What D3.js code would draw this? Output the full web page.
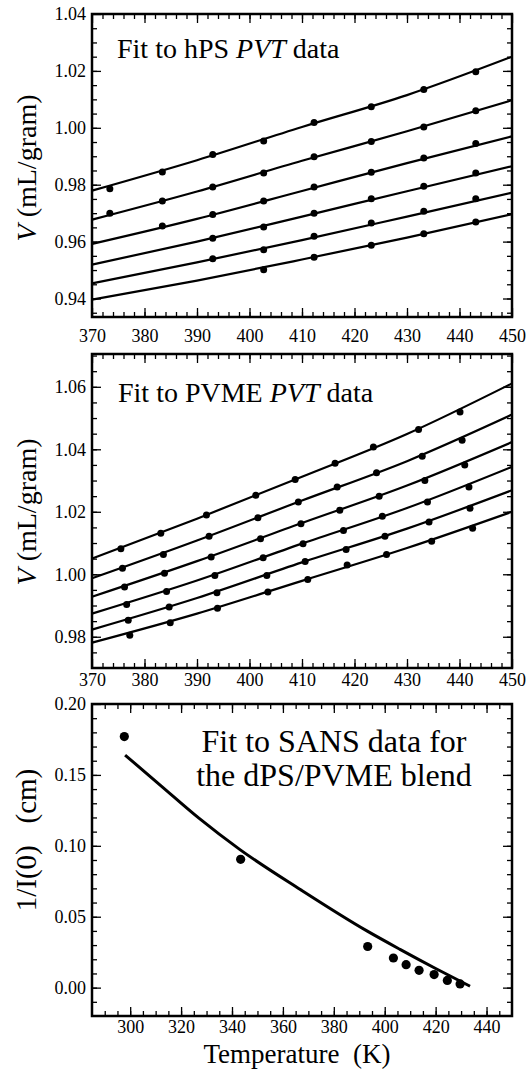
<!DOCTYPE html>
<meta charset="utf-8">
<style>
body { margin: 0; background: #fff; }
svg { display: block; }
.frame { fill: none; stroke: #000; stroke-width: 2.5; }
.fit { fill: none; stroke: #000; stroke-linejoin: round; }
.axis path { display: none; }
.axis line { stroke: #000; stroke-width: 1.3; }
</style>
<body>
<svg width="527" height="1070"></svg>
<script src="https://d3js.org/d3.v7.min.js"></script>
<script>

// ---- hPS PVT data (isobars, top to bottom) ----
var hpsT = [373.4, 383.4, 393.0, 402.7, 412.3, 423.2, 433.2, 443.1];
var hpsV1 = [0.9786, 0.9845, 0.9906, 0.9954, 1.0019, 1.0074, 1.0135, 1.0197];
var hpsV2 = [0.9700, 0.9743, 0.9792, 0.9841, 0.9898, 0.9952, 1.0003, 1.0060];
var hpsV3 = [null, 0.9655, 0.9695, 0.9743, 0.9792, 0.9844, 0.9894, 0.9945];
var hpsV4 = [null, null, 0.9612, 0.9651, 0.9700, 0.9751, 0.9795, 0.9841];
var hpsV5 = [null, null, 0.9540, 0.9571, 0.9619, 0.9665, 0.9707, 0.9751];
var hpsV6 = [null, null, null, 0.9501, 0.9545, 0.9587, 0.9628, 0.9669];

var fitT = [370, 390, 410, 430, 450];
var hpsFit1 = [0.9779, 0.9886, 1.0003, 1.0115, 1.0250];
var hpsFit2 = [0.9677, 0.9776, 0.9884, 0.9988, 1.0097];
var hpsFit3 = [0.9592, 0.9680, 0.9778, 0.9876, 0.9970];
var hpsFit4 = [0.9519, 0.9600, 0.9688, 0.9777, 0.9865];
var hpsFit5 = [0.9453, 0.9527, 0.9605, 0.9688, 0.9772];
var hpsFit6 = [0.9396, 0.9463, 0.9537, 0.9614, 0.9696];

// ---- PVME PVT data ----
var pvmeT1 = [375.5, 383.1, 391.8, 401.2, 408.7, 416.3, 423.6, 432.2, 440.1];
var pvmeV1 = [1.0082, 1.0131, 1.0190, 1.0253, 1.0303, 1.0355, 1.0407, 1.0463, 1.0519];
var pvmeT2 = [375.8, 383.6, 392.3, 401.6, 409.3, 416.7, 424.2, 432.9, 440.5];
var pvmeV2 = [1.0019, 1.0063, 1.0122, 1.0181, 1.0231, 1.0279, 1.0325, 1.0378, 1.0429];
var pvmeT3 = [376.2, 383.8, 392.7, 402.1, 409.8, 417.2, 424.7, 433.4, 441.0];
var pvmeV3 = [0.9959, 1.0003, 1.0055, 1.0114, 1.0162, 1.0205, 1.0250, 1.0300, 1.0350];
var pvmeT4 = [376.6, 384.2, 393.4, 402.6, 410.2, 417.9, 425.3, 433.9, 441.8];
var pvmeV4 = [0.9903, 0.9945, 0.9996, 1.0053, 1.0098, 1.0140, 1.0186, 1.0231, 1.0279];
var pvmeT5 = [376.9, 384.7, 393.8, 403.3, 410.6, 418.4, 425.8, 434.2, 442.0];
var pvmeV5 = [0.9853, 0.9895, 0.9941, 0.9996, 1.0041, 1.0079, 1.0122, 1.0167, 1.0211];
var pvmeT6 = [377.2, 384.9, 393.9, 403.5, 411.1, 418.6, 426.1, 434.7, 442.5];
var pvmeV6 = [0.9805, 0.9845, 0.9891, 0.9943, 0.9983, 1.0030, 1.0063, 1.0106, 1.0147];

var pvmeFit1 = [1.0050, 1.0178, 1.0312, 1.0449, 1.0611];
var pvmeFit2 = [0.9987, 1.0108, 1.0236, 1.0362, 1.0511];
var pvmeFit3 = [0.9928, 1.0042, 1.0164, 1.0284, 1.0423];
var pvmeFit4 = [0.9874, 0.9980, 1.0098, 1.0212, 1.0344];
var pvmeFit5 = [0.9823, 0.9924, 1.0038, 1.0146, 1.0269];
var pvmeFit6 = [0.9781, 0.9874, 0.9979, 1.0084, 1.0200];

// ---- SANS data ----
var sansT = [297.7, 343.4, 393.3, 403.4, 408.4, 413.5, 419.4, 424.6, 429.6];
var sansInv = [0.177, 0.0905, 0.0290, 0.0209, 0.0162, 0.0122, 0.0092, 0.0051, 0.0026];
var sansFitT = [298, 312, 327, 343, 367, 393, 406, 420, 433.5];
var sansFitInv = [0.164, 0.1425, 0.1195, 0.0975, 0.069, 0.040, 0.027, 0.0135, 0.001];

// ---- tick labels ----
var pvtXTicks = [370, 380, 390, 400, 410, 420, 430, 440, 450];
var hpsYTicks = [0.94, 0.96, 0.98, 1.00, 1.02, 1.04];
var pvmeYTicks = [0.98, 1.00, 1.02, 1.04, 1.06];
var sansXTicks = [300, 320, 340, 360, 380, 400, 420, 440];
var sansYTicks = [0.00, 0.05, 0.10, 0.15, 0.20];

var svg = d3.select("svg");
var left = 92, right = 512;

function zip(xs, ys) {
  return xs.map(function(x, i) { return [x, ys[i]]; }).filter(function(d) { return d[1] != null; });
}

function panel(o) {
  var x = d3.scaleLinear().domain(o.xDomain).range([left, right]);
  var y = d3.scaleLinear().domain(o.yDomain).range([o.bottom, o.top]);
  var g = svg.append("g");

  var xMinor = d3.range(o.xDomain[0], o.xDomain[1] + 0.001, o.xMinor).filter(function(v) { return v > o.xDomain[0] + 0.01 && v < o.xDomain[1] - 0.01; });
  var yMinor = d3.range(o.yMinor0, o.yDomain[1], o.yMinor);

  // minor ticks on all four sides
  g.append("g").attr("class", "axis").attr("transform", "translate(0," + o.bottom + ")")
    .call(d3.axisBottom(x).tickValues(xMinor).tickSize(-5).tickFormat(""));
  g.append("g").attr("class", "axis").attr("transform", "translate(0," + o.top + ")")
    .call(d3.axisTop(x).tickValues(xMinor).tickSize(-5).tickFormat(""));
  g.append("g").attr("class", "axis").attr("transform", "translate(" + left + ",0)")
    .call(d3.axisLeft(y).tickValues(yMinor).tickSize(-5).tickFormat(""));
  g.append("g").attr("class", "axis").attr("transform", "translate(" + right + ",0)")
    .call(d3.axisRight(y).tickValues(yMinor).tickSize(-5).tickFormat(""));

  // major ticks with labels
  g.append("g").attr("class", "axis").attr("transform", "translate(0," + o.bottom + ")")
    .call(d3.axisBottom(x).tickValues(o.xTicks).tickSize(-9).tickPadding(o.xPad).tickFormat(d3.format("d")));
  g.append("g").attr("class", "axis").attr("transform", "translate(0," + o.top + ")")
    .call(d3.axisTop(x).tickValues(o.xTicks).tickSize(-9).tickFormat(""));
  g.append("g").attr("class", "axis").attr("transform", "translate(" + left + ",0)")
    .call(d3.axisLeft(y).tickValues(o.yTicks).tickSize(-9).tickPadding(6).tickFormat(d3.format(".2f")));
  g.append("g").attr("class", "axis").attr("transform", "translate(" + right + ",0)")
    .call(d3.axisRight(y).tickValues(o.yTicks).tickSize(-9).tickFormat(""));
  // axis groups carry font attributes; drop them so our own apply
  g.selectAll(".axis").attr("font-family", null).attr("font-size", null);
  g.selectAll(".axis text").style("font-size", "18px");

  var line = d3.line().curve(d3.curveMonotoneX)
    .x(function(d) { return x(d[0]); })
    .y(function(d) { return y(d[1]); });

  g.selectAll(".fit-" + o.id).data(o.fits).enter().append("path")
    .attr("class", "fit")
    .attr("stroke-width", o.lineWidth)
    .attr("d", line);

  o.dots.forEach(function(pts) {
    g.selectAll(null).data(pts).enter().append("circle")
      .attr("cx", function(d) { return x(d[0]); })
      .attr("cy", function(d) { return y(d[1]); })
      .attr("r", o.r)
      .attr("fill", "#000");
  });

  g.append("rect").attr("class", "frame")
    .attr("x", left).attr("y", o.top)
    .attr("width", right - left).attr("height", o.bottom - o.top);
  return g;
}

// top: hPS
panel({
  id: "hps", top: 14, bottom: 317,
  xDomain: [370, 450], yDomain: [0.9335, 1.04],
  xTicks: pvtXTicks, yTicks: hpsYTicks, xMinor: 2, yMinor0: 0.935, yMinor: 0.005, xPad: 12,
  fits: [hpsFit1, hpsFit2, hpsFit3, hpsFit4, hpsFit5, hpsFit6].map(function(v) { return zip(fitT, v); }),
  dots: [hpsV1, hpsV2, hpsV3, hpsV4, hpsV5, hpsV6].map(function(v) { return zip(hpsT, v); }),
  r: 3.5, lineWidth: 2.2
});

// middle: PVME
panel({
  id: "pvme", top: 354, bottom: 668,
  xDomain: [370, 450], yDomain: [0.970, 1.0705],
  xTicks: pvtXTicks, yTicks: pvmeYTicks, xMinor: 2, yMinor0: 0.975, yMinor: 0.005, xPad: 5,
  fits: [pvmeFit1, pvmeFit2, pvmeFit3, pvmeFit4, pvmeFit5, pvmeFit6].map(function(v) { return zip(fitT, v); }),
  dots: [[pvmeT1, pvmeV1], [pvmeT2, pvmeV2], [pvmeT3, pvmeV3], [pvmeT4, pvmeV4], [pvmeT5, pvmeV5], [pvmeT6, pvmeV6]]
    .map(function(p) { return zip(p[0], p[1]); }),
  r: 3.5, lineWidth: 2.2
});

// bottom: SANS
panel({
  id: "sans", top: 704, bottom: 1016,
  xDomain: [285, 450], yDomain: [-0.02, 0.20],
  xTicks: sansXTicks, yTicks: sansYTicks, xMinor: 5, yMinor0: -0.01, yMinor: 0.01, xPad: 4,
  fits: [zip(sansFitT, sansFitInv)],
  dots: [zip(sansT, sansInv)],
  r: 4.6, lineWidth: 3
});

// titles
var t1 = svg.append("text").attr("x", 117).attr("y", 58).style("font-size", "28px");
t1.append("tspan").text("Fit to hPS ");
t1.append("tspan").style("font-style", "italic").text("PVT");
t1.append("tspan").text(" data");

var t2 = svg.append("text").attr("x", 118).attr("y", 402).style("font-size", "28px");
t2.append("tspan").text("Fit to PVME ");
t2.append("tspan").style("font-style", "italic").text("PVT");
t2.append("tspan").text(" data");

svg.append("text").attr("x", 334).attr("y", 752).style("font-size", "32px")
  .attr("text-anchor", "middle").text("Fit to SANS data for");
svg.append("text").attr("x", 334).attr("y", 786).style("font-size", "32px")
  .attr("text-anchor", "middle").text("the dPS/PVME blend");

// y labels
function vLabel(cy) {
  var t = svg.append("text")
    .attr("transform", "translate(36," + cy + ") rotate(-90)")
    .attr("text-anchor", "middle").style("font-size", "28px");
  t.append("tspan").style("font-style", "italic").text("V");
  t.append("tspan").text(" (mL/gram)");
}
vLabel(168);
vLabel(512);

svg.append("text")
  .attr("transform", "translate(36,840) rotate(-90)")
  .attr("text-anchor", "middle").style("font-size", "29px")
  .style("white-space", "pre")
  .text("1/I(0)   (cm)");

svg.append("text")
  .attr("x", 297).attr("y", 1063)
  .attr("text-anchor", "middle").style("font-size", "27px")
  .style("white-space", "pre")
  .text("Temperature  (K)");

svg.selectAll("text").style("font-family", "Liberation Serif").style("fill", "#000");

</script>
</body>
